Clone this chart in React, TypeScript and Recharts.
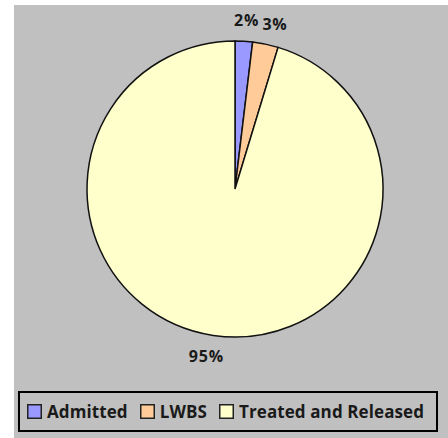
import { PieChart, Pie, Cell, Legend } from "recharts";

const categories = ["Admitted", "LWBS", "Treated and Released"];
const shares = [1.9, 2.8, 95.3];
const colors = ["#9999ff", "#ffcc99", "#ffffcc"];

const data = categories.map((name, i) => ({ name, value: shares[i] }));

const RADIAN = Math.PI / 180;
const FONT = "'Open Sans', sans-serif";

// labels sit a little further out sideways, like the Excel original
function renderLabel({ cx, cy, midAngle, outerRadius, percent }: any) {
  const r = outerRadius + 21;
  const x = cx + 1.15 * r * Math.cos(-midAngle * RADIAN);
  const y = cy + r * Math.sin(-midAngle * RADIAN);
  return (
    <text
      x={x}
      y={y}
      textAnchor="middle"
      dominantBaseline="central"
      fill="#1a1a1a"
      fontFamily={FONT}
      fontWeight={700}
      fontSize={16}
      letterSpacing={0.8}
    >
      {`${(percent * 100).toFixed(0)}%`}
    </text>
  );
}

function renderLegend({ payload }: any) {
  return (
    <div
      style={{
        boxSizing: "border-box",
        width: 420,
        height: 41,
        border: "2px solid #000",
        display: "flex",
        alignItems: "center",
        paddingLeft: 7,
        fontFamily: FONT,
        fontWeight: 700,
        fontSize: 17,
        letterSpacing: 0.1,
        lineHeight: "20px",
        color: "#1a1a1a",
        whiteSpace: "nowrap",
        overflow: "hidden",
      }}
    >
      {payload.map((entry: any, i: number) => {
        const idx = categories.indexOf(entry.value);
        return (
          <div
            key={i}
            style={{ display: "flex", alignItems: "center", marginRight: 12, flex: "0 0 auto" }}
          >
            <svg width={15} height={15} style={{ marginRight: 5, flex: "0 0 15px" }}>
              <rect
                x={0.75}
                y={0.75}
                width={13.5}
                height={13.5}
                fill={colors[idx >= 0 ? idx : i]}
                stroke="#222"
                strokeWidth={1.5}
              />
            </svg>
            <span>{entry.value}</span>
          </div>
        );
      })}
    </div>
  );
}

export default function App() {
  return (
    <div
      style={{
        position: "absolute",
        left: 14,
        top: 5,
        width: 434,
        height: 433,
        background: "#c0c0c0",
      }}
    >
      <PieChart width={434} height={433} margin={{ top: 0, right: 0, bottom: 0, left: 0 }}>
        <Pie
          data={data}
          dataKey="value"
          nameKey="name"
          cx={221}
          cy={184}
          outerRadius={148}
          startAngle={90}
          endAngle={-270}
          stroke="#111"
          strokeWidth={1.5}
          label={renderLabel}
          labelLine={false}
          isAnimationActive={false}
        >
          {data.map((d, i) => (
            <Cell key={d.name} fill={colors[i]} />
          ))}
        </Pie>
        <Legend
          content={renderLegend}
          verticalAlign="bottom"
          align="left"
          wrapperStyle={{ left: 4, bottom: 6, width: 420, height: 41 }}
        />
      </PieChart>
    </div>
  );
}
